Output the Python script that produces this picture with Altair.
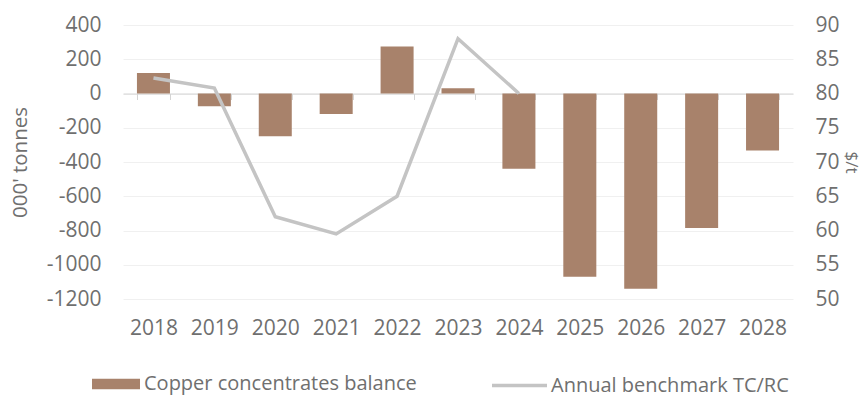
import altair as alt
import pandas as pd

years = ["2018", "2019", "2020", "2021", "2022", "2023", "2024", "2025", "2026", "2027", "2028"]
balance = [120, -75, -250, -120, 275, 30, -440, -1070, -1140, -785, -333]
tc_years = ["2018", "2019", "2020", "2021", "2022", "2023", "2024"]
tc_rc = [82.25, 80.8, 62, 59.5, 65, 88, 80]

bar_name = "Copper concentrates balance"
line_name = "Annual benchmark TC/RC"

bars_df = pd.DataFrame({"year": years, "balance": balance, "series": bar_name})
line_df = pd.DataFrame({"year": tc_years, "tcrc": tc_rc, "series": line_name})

FONT = "Open Sans"
TXT = "#6f6f6f"
W, H = 670, 274
LBL = 21

x_scale = alt.Scale(domain=years, paddingInner=0.458, paddingOuter=0.229)
x_axis = alt.Axis(
    title=None, orient="bottom", offset=-(H - H * 400 / 1600),
    tickBand="extent", domainColor="#d4d4d4", tickColor="#d4d4d4",
    tickSize=6, labelPadding=218, labelFontSize=LBL, labelFont=FONT,
    labelColor=TXT, labelAngle=0, grid=False,
)

bars = alt.Chart(bars_df).mark_bar(color="#A8826B").encode(
    x=alt.X("year:N", scale=x_scale, axis=x_axis, sort=years),
    y=alt.Y("balance:Q",
            scale=alt.Scale(domain=[-1200, 400], nice=False),
            axis=alt.Axis(values=list(range(-1200, 401, 200)), title="000' tonnes",
                          labelExpr="'' + datum.value",
                          titleFont=FONT, titleFontSize=20.5, titleFontWeight="normal",
                          titleColor=TXT, titlePadding=16,
                          labelFont=FONT, labelFontSize=LBL, labelColor=TXT,
                          labelPadding=22, ticks=False, domain=False,
                          grid=True, gridColor="#f0f0f0", gridWidth=1)),
    color=alt.Color("series:N",
                    scale=alt.Scale(domain=[bar_name], range=["#A8826B"]),
                    legend=alt.Legend(title=None, orient="none", legendX=-31, legendY=335,
                                      symbolType="M-1,-0.22H1V0.22H-1Z", symbolSize=2304,
                                      symbolStrokeWidth=0, symbolOpacity=1,
                                      labelFont=FONT, labelFontSize=20, labelColor=TXT,
                                      labelLimit=400, labelOffset=4, padding=0)),
)

line = alt.Chart(line_df).mark_line(strokeWidth=3.5, strokeJoin="miter").encode(
    x=alt.X("year:N", scale=x_scale, sort=years),
    y=alt.Y("tcrc:Q",
            scale=alt.Scale(domain=[50, 90], nice=False),
            axis=alt.Axis(orient="right", values=list(range(50, 91, 5)), title="$/t",
                          titleFont=FONT, titleFontSize=17, titleFontWeight="normal",
                          titleColor=TXT, titlePadding=2,
                          labelFont=FONT, labelFontSize=LBL, labelColor=TXT,
                          labelPadding=22, ticks=False, domain=False, grid=False)),
    stroke=alt.Stroke("series:N",
                      scale=alt.Scale(domain=[line_name], range=["#C4C4C4"]),
                      legend=alt.Legend(title=None, orient="none", legendX=367, legendY=331,
                                        symbolType="stroke", symbolSize=3025,
                                        symbolStrokeWidth=3.5,
                                        labelFont=FONT, labelFontSize=20, labelColor=TXT,
                                        labelLimit=400, labelOffset=2, padding=0)),
)

chart = alt.layer(bars, line).resolve_scale(y="independent", color="independent").properties(
    width=W, height=H,
    autosize=alt.AutoSizeParams(type="none"),
    padding={"left": 123, "top": 25, "right": 866 - 123 - W, "bottom": 397 - 25 - H},
    background="white",
).configure_view(stroke=None)

chart.save("out.html", embed_options={"renderer": "svg", "actions": False})
